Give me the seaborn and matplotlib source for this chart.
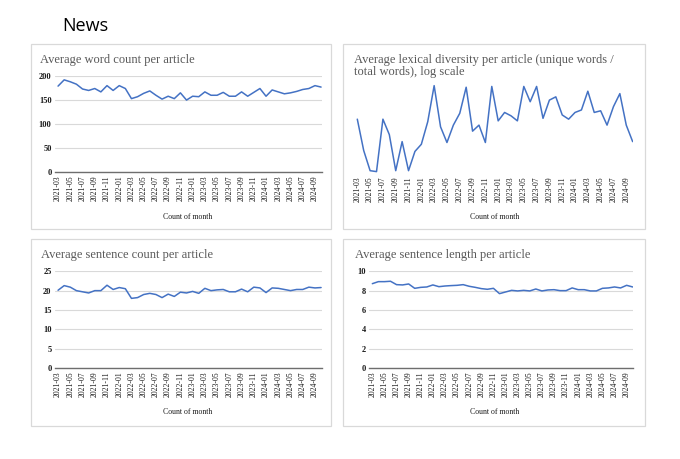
import pandas as pd
import seaborn as sns
import matplotlib.pyplot as plt
from matplotlib.patches import Rectangle

# month categories 2021-03 .. 2024-10
months = pd.period_range('2021-03', '2024-10', freq='M').strftime('%Y-%m').tolist()

word_count = [179, 192, 188, 183, 173, 170, 174, 167, 180, 170, 180, 174,
              153, 157, 164, 169, 160, 152, 158, 153, 165, 150, 158, 157,
              167, 160, 160, 166, 158, 158, 167, 158, 166, 174, 158, 171,
              167, 163, 165, 168, 172, 174, 180, 177]

lexical_diversity = [0.609, 0.573, 0.551, 0.550, 0.609, 0.591, 0.551, 0.583,
                     0.551, 0.572, 0.580, 0.606, 0.650, 0.600, 0.582, 0.602,
                     0.616, 0.648, 0.595, 0.602, 0.582, 0.649, 0.607, 0.617,
                     0.613, 0.607, 0.649, 0.630, 0.649, 0.610, 0.632, 0.636,
                     0.614, 0.609, 0.617, 0.620, 0.643, 0.617, 0.619, 0.602,
                     0.624, 0.640, 0.602, 0.583]

sentence_count = [20.1, 21.3, 20.9, 20.0, 19.7, 19.4, 20.0, 20.0, 21.4, 20.3,
                  20.8, 20.5, 18.0, 18.2, 19.0, 19.3, 19.0, 18.2, 19.1, 18.5,
                  19.6, 19.4, 19.8, 19.3, 20.6, 20.0, 20.2, 20.3, 19.7, 19.7,
                  20.4, 19.7, 20.9, 20.7, 19.5, 20.7, 20.6, 20.3, 20.0, 20.3,
                  20.3, 20.9, 20.7, 20.8]

sentence_length = [8.72, 8.93, 8.93, 8.97, 8.62, 8.59, 8.69, 8.24, 8.34, 8.38,
                   8.59, 8.41, 8.48, 8.52, 8.55, 8.62, 8.45, 8.34, 8.21, 8.14,
                   8.24, 7.69, 7.86, 8.03, 7.97, 8.03, 7.97, 8.17, 7.97, 8.07,
                   8.10, 8.00, 8.00, 8.28, 8.10, 8.10, 7.97, 7.97, 8.24, 8.28,
                   8.38, 8.28, 8.55, 8.38]

df = pd.DataFrame({'month': months, 'idx': range(len(months)),
                   'words': word_count, 'lexical': lexical_diversity,
                   'sentences': sentence_count, 'length': sentence_length})

sns.set_style('white')
plt.rcParams['font.family'] = ['Liberation Serif', 'DejaVu Serif']

W, H = 680, 459
fig = plt.figure(figsize=(W / 100, H / 100), dpi=100)
fig.patch.set_facecolor('white')

LINE = '#4472C4'
GRID = '#d9d9d9'
TXT = '#595959'


def px_axes(l, t, r, b):
    return fig.add_axes([l / W, 1 - b / H, (r - l) / W, (b - t) / H])


def ftext(x, y, s, **kw):
    fig.text(x / W, 1 - y / H, s, **kw)


# panel frames
for (l, t, r, b) in [(31, 44, 331, 229), (343, 44, 645, 229),
                     (31, 239, 331, 426), (343, 239, 645, 426)]:
    fig.patches.append(Rectangle((l / W, 1 - b / H), (r - l) / W, (b - t) / H,
                                 transform=fig.transFigure, fill=False,
                                 edgecolor=GRID, linewidth=0.9))


def style_axis(ax, col, ylim, yticks):
    sns.lineplot(data=df, x='idx', y=col, ax=ax, color=LINE, linewidth=1.1)
    ax.set_xlim(-0.5, 43.1)
    ax.set_xticks(df['idx'][::2])
    ax.set_xticklabels(df['month'][::2], rotation=90, fontsize=5.6, color='#1a1a1a')
    ax.set_xlabel('')
    ax.set_ylabel('')
    for s in ['top', 'right', 'left']:
        ax.spines[s].set_visible(False)
    ax.tick_params(length=0, pad=2.5)
    if ylim is not None:
        ax.set_ylim(*ylim)
        ax.set_yticks(yticks)
        ax.set_yticklabels([str(v) for v in yticks], fontsize=6, color='#1a1a1a',
                           fontweight='bold')
        ax.grid(axis='y', color=GRID, linewidth=0.8)
        ax.spines['bottom'].set_color('#6e6e6e')
        ax.spines['bottom'].set_linewidth(1.0)
        ax.set_axisbelow(True)


ax1 = px_axes(55, 76, 321.7, 172.3)
style_axis(ax1, 'words', (0, 200), [0, 50, 100, 150, 200])

ax2 = px_axes(354.1, 84.3, 633.3, 173.3)
style_axis(ax2, 'lexical', None, None)
ax2.set_yscale('log')
ax2.set_ylim(0.5482, 0.6517)
ax2.set_yticks([])
ax2.set_yticks([], minor=True)
ax2.spines['bottom'].set_visible(False)

ax3 = px_axes(55, 271.3, 321.7, 368)
style_axis(ax3, 'sentences', (0, 25), [0, 5, 10, 15, 20, 25])

ax4 = px_axes(369.3, 271.3, 633.3, 368)
style_axis(ax4, 'length', (0, 10), [0, 2, 4, 6, 8, 10])

# titles
ftext(62, 31, 'News', fontsize=13, family=['Open Sans', 'DejaVu Sans'], color='black')
ftext(40.5, 60, 'Average word count per article', fontsize=9, color=TXT, va='center')
ftext(354, 60, 'Average lexical diversity per article (unique words /', fontsize=9,
      color=TXT, va='center')
ftext(354, 72.3, 'total words), log scale', fontsize=9, color=TXT, va='center')
ftext(41, 254.7, 'Average sentence count per article', fontsize=9, color=TXT, va='center')
ftext(355, 254.7, 'Average sentence length per article', fontsize=9, color=TXT, va='center')

# x axis titles
for (x, y) in [(188, 216.7), (495, 216.7), (188, 412), (495, 412)]:
    ftext(x, y, 'Count of month', fontsize=5.6, color='#1a1a1a', ha='center', va='center')

fig.savefig('out.png', dpi=100, facecolor='white')
